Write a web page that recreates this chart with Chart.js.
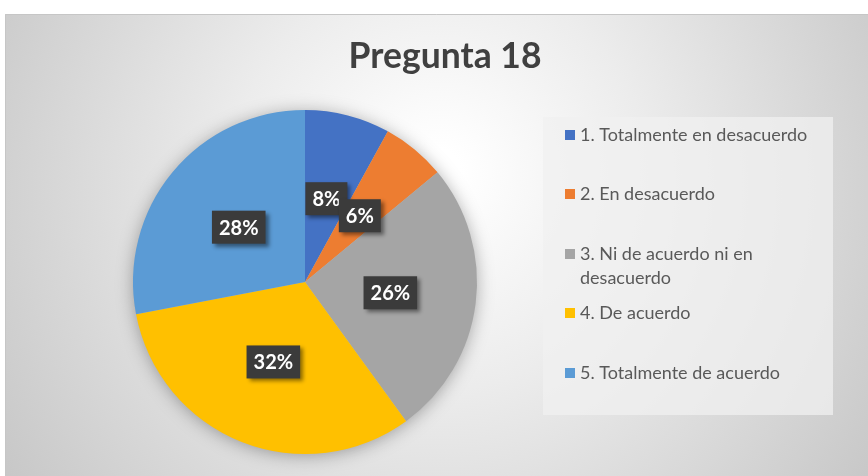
<!DOCTYPE html>
<html>
<head>
<meta charset="utf-8">
<script src="https://cdn.jsdelivr.net/npm/chart.js@4.4.1/dist/chart.umd.min.js"></script>
<style>
  html, body { margin: 0; padding: 0; background: #ffffff; }
  #wrap { position: relative; width: 868px; height: 476px; }
  canvas { display: block; }
</style>
</head>
<body>
<div id="wrap"><canvas id="c" width="868" height="476"></canvas></div>
<script>
const TITLE = 'Pregunta 18';
const CATEGORIES = [
  '1. Totalmente en desacuerdo',
  '2. En desacuerdo',
  '3. Ni de acuerdo ni en desacuerdo',
  '4. De acuerdo',
  '5. Totalmente de acuerdo'
];
const VALUES = [8, 6, 26, 32, 28];
const COLORS = ['#4472C4', '#ED7D31', '#A5A5A5', '#FFC000', '#5B9BD5'];

const FONT = 'Lato, "Open Sans", sans-serif';

const backgroundPlugin = {
  id: 'bg',
  beforeDraw(chart) {
    const ctx = chart.ctx;
    ctx.save();
    ctx.fillStyle = '#ffffff';
    ctx.fillRect(0, 0, chart.width, chart.height);
    const g = ctx.createRadialGradient(440, 170, 20, 440, 200, 560);
    g.addColorStop(0, '#ffffff');
    g.addColorStop(0.35, '#ececec');
    g.addColorStop(1, '#c2c2c2');
    ctx.fillStyle = g;
    ctx.fillRect(5, 14, chart.width - 5, chart.height - 14);
    ctx.strokeStyle = '#c6c6c6';
    ctx.lineWidth = 1;
    ctx.beginPath();
    ctx.moveTo(5.5, chart.height);
    ctx.lineTo(5.5, 14.5);
    ctx.lineTo(chart.width, 14.5);
    ctx.stroke();
    // title
    ctx.fillStyle = '#404040';
    ctx.font = 'bold 35.5px ' + FONT;
    ctx.textAlign = 'center';
    ctx.textBaseline = 'middle';
    ctx.fillText(TITLE, 445, 57);
    ctx.restore();
  },
  beforeDatasetsDraw(chart) {
    const arc = chart.getDatasetMeta(0).data[0];
    if (!arc) return;
    const ctx = chart.ctx;
    ctx.save();
    ctx.shadowColor = 'rgba(0,0,0,0.35)';
    ctx.shadowBlur = 18;
    ctx.shadowOffsetX = 0;
    ctx.shadowOffsetY = 2;
    ctx.fillStyle = '#bdbdbd';
    ctx.beginPath();
    ctx.arc(arc.x, arc.y, arc.outerRadius - 1, 0, Math.PI * 2);
    ctx.fill();
    ctx.restore();
  }
};

const labelPlugin = {
  id: 'boxLabels',
  afterDatasetsDraw(chart) {
    const ctx = chart.ctx;
    const meta = chart.getDatasetMeta(0);
    const total = VALUES.reduce((a, b) => a + b, 0);
    ctx.save();
    ctx.font = 'bold 20px ' + FONT;
    ctx.textAlign = 'center';
    ctx.textBaseline = 'middle';
    meta.data.forEach((arc, i) => {
      const p = arc.getCenterPoint();
      const txt = Math.round(VALUES[i] / total * 100) + '%';
      const w = ctx.measureText(txt).width + 14;
      const h = 33;
      ctx.save();
      ctx.shadowColor = 'rgba(0,0,0,0.45)';
      ctx.shadowBlur = 4;
      ctx.shadowOffsetX = 3;
      ctx.shadowOffsetY = 3;
      ctx.fillStyle = '#3b3b3b';
      ctx.fillRect(p.x - w / 2, p.y - h / 2, w, h);
      ctx.restore();
      ctx.fillStyle = '#ffffff';
      ctx.fillText(txt, p.x, p.y + 1);
    });
    ctx.restore();
  }
};

const legendPlugin = {
  id: 'boxLegend',
  afterDraw(chart) {
    const ctx = chart.ctx;
    ctx.save();
    ctx.fillStyle = 'rgba(240,240,240,0.75)';
    ctx.fillRect(543, 117, 290, 298);
    ctx.font = '18px ' + FONT;
    ctx.textBaseline = 'middle';
    ctx.textAlign = 'left';
    const ys = [135, 194, 254, 313, 373];
    const maxW = 240;
    chart.data.labels.forEach((lab, i) => {
      const words = lab.split(' ');
      const lines = [];
      let cur = '';
      words.forEach(w => {
        const t = cur ? cur + ' ' + w : w;
        if (ctx.measureText(t).width > maxW && cur) { lines.push(cur); cur = w; }
        else cur = t;
      });
      if (cur) lines.push(cur);
      const y = ys[i];
      ctx.fillStyle = chart.data.datasets[0].backgroundColor[i];
      ctx.fillRect(565, y - 5, 10, 10);
      ctx.fillStyle = '#595959';
      lines.forEach((ln, k) => ctx.fillText(ln, 580, y + k * 24));
    });
    ctx.restore();
  }
};

new Chart(document.getElementById('c'), {
  type: 'pie',
  data: {
    labels: CATEGORIES,
    datasets: [{
      data: VALUES,
      backgroundColor: COLORS,
      borderWidth: 0,
      hoverOffset: 0
    }]
  },
  options: {
    responsive: false,
    devicePixelRatio: 1,
    animation: false,
    events: [],
    layout: { padding: { left: 133, right: 391, top: 110, bottom: 22 } },
    plugins: {
      legend: { display: false },
      title: { display: false },
      tooltip: { enabled: false }
    }
  },
  plugins: [backgroundPlugin, labelPlugin, legendPlugin]
});
</script>
</body>
</html>
